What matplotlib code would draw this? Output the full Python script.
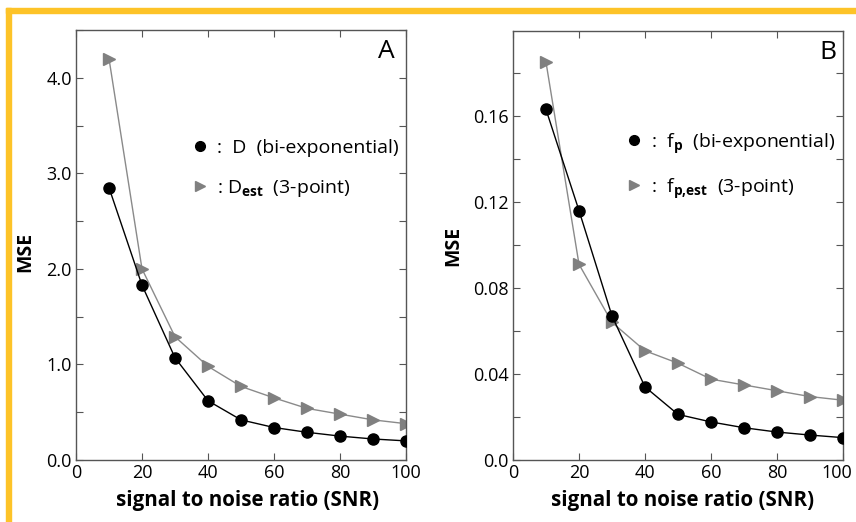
import matplotlib
matplotlib.use('Agg')
import matplotlib.pyplot as plt
import matplotlib.transforms as mtransforms
from matplotlib.lines import Line2D
from matplotlib.patches import Rectangle
from matplotlib.ticker import MultipleLocator

plt.rcParams['font.family'] = ['Open Sans', 'DejaVu Sans']
plt.rcParams['mathtext.fontset'] = 'custom'
plt.rcParams['mathtext.rm'] = 'Open Sans'
plt.rcParams['mathtext.bf'] = 'Open Sans:bold'

# Данные
snr = [10, 20, 30, 40, 50, 60, 70, 80, 90, 100]
mse_D_biexp = [2.85, 1.83, 1.07, 0.62, 0.42, 0.34, 0.29, 0.25, 0.22, 0.20]
mse_D_est = [4.20, 2.00, 1.29, 0.98, 0.77, 0.65, 0.54, 0.48, 0.42, 0.38]
mse_fp_biexp = [0.163, 0.116, 0.067, 0.034, 0.0212, 0.0177, 0.015, 0.013, 0.0116, 0.0104]
mse_fp_est = [0.185, 0.091, 0.064, 0.0508, 0.045, 0.0376, 0.0349, 0.0322, 0.0295, 0.0278]
xticks = [0, 20, 40, 60, 80, 100]

labels_A = [r':  D  (bi-exponential)', r': $\mathregular{D}_{\mathbf{est}}$  (3-point)']
labels_B = [r':  $\mathregular{f}_{\mathbf{p}}$  (bi-exponential)', r':  $\mathregular{f}_{\mathbf{p{,}est}}$  (3-point)']

W, H = 856, 522
fig = plt.figure(figsize=(W / 100, H / 100), dpi=100)

# Рамка
gold = '#FDC328'
fig.patches.append(Rectangle((6 / W, 1 - 12.7 / H), 1, 4.7 / H, transform=fig.transFigure,
                             color=gold, zorder=0))
fig.patches.append(Rectangle((6 / W, 0), 4.7 / W, 1 - 8 / H, transform=fig.transFigure,
                             color=gold, zorder=0))

circle_kw = dict(color='black', marker='o', markersize=8, linewidth=1.0)
tri_kw = dict(color='#8a8a8a', marker='>', markersize=8.5, linewidth=1.0,
              markerfacecolor='#808080', markeredgecolor='#808080')


def setup(ax, ymax, ymajor, yminor, fmt, xl, yl):
    ax.set_xlim(0, 100)
    ax.set_ylim(0, ymax)
    ax.set_xticks(xticks)
    ax.yaxis.set_major_locator(MultipleLocator(ymajor))
    ax.yaxis.set_minor_locator(MultipleLocator(yminor))
    ax.yaxis.set_major_formatter(fmt)
    ax.tick_params(which='both', direction='in', top=True, right=True,
                   length=5, width=0.8, color='#555555', labelsize=13, pad=3)
    for s in ax.spines.values():
        s.set_color('#555555')
        s.set_linewidth(1.0)
    ax.set_xlabel('signal to noise ratio (SNR)', fontsize=14.8, fontweight='bold')
    ax.set_ylabel('MSE', fontsize=14, fontweight='bold')
    ax.xaxis.set_label_coords(*xl)
    ax.yaxis.set_label_coords(*yl)


def legend(ax, labels, x, y):
    handles = [Line2D([], [], linestyle='none', marker='o', color='black', markersize=7),
               Line2D([], [], linestyle='none', marker='>', color='#808080', markersize=7.5)]
    ax.legend(handles, labels, loc='upper left', bbox_to_anchor=(x, y), frameon=False,
              fontsize=14, handlelength=0.8, handletextpad=0.5, labelspacing=1.1,
              borderpad=0, borderaxespad=0)


# Панель A
axA = fig.add_axes([76 / W, 62 / H, 330 / W, 430 / H])
axA.plot(snr, mse_D_biexp, **circle_kw, zorder=3)
axA.plot(snr, mse_D_est, **tri_kw, zorder=2)
setup(axA, 4.5, 1.0, 0.5, '{x:.1f}', (0.52, -0.07), (-0.124, 0.484))
axA.text(0.965, 0.95, 'A', transform=axA.transAxes, fontsize=19, ha='right', va='center')
legend(axA, labels_A, 0.352, 0.747)

# Панель B
axB = fig.add_axes([513 / W, 62 / H, 330 / W, 429 / H])
axB.plot(snr, mse_fp_biexp, **circle_kw, zorder=3)
axB.plot(snr, mse_fp_est, **tri_kw, zorder=2)
setup(axB, 0.1995, 0.04, 0.02, lambda v, p: '0.0' if v == 0 else f'{v:.2f}',
      (0.513, -0.07), (-0.152, 0.50))
axB.text(0.98, 0.95, 'B', transform=axB.transAxes, fontsize=19, ha='right', va='center')
legend(axB, labels_B, 0.342, 0.767)

# сдвигаем подпись "100" чуть влево, чтобы не обрезалась
last = axB.get_xticklabels()[-1]
last.set_transform(last.get_transform() + mtransforms.ScaledTranslation(-6 / 100, 0, fig.dpi_scale_trans))

fig.savefig('out.png', dpi=100)
